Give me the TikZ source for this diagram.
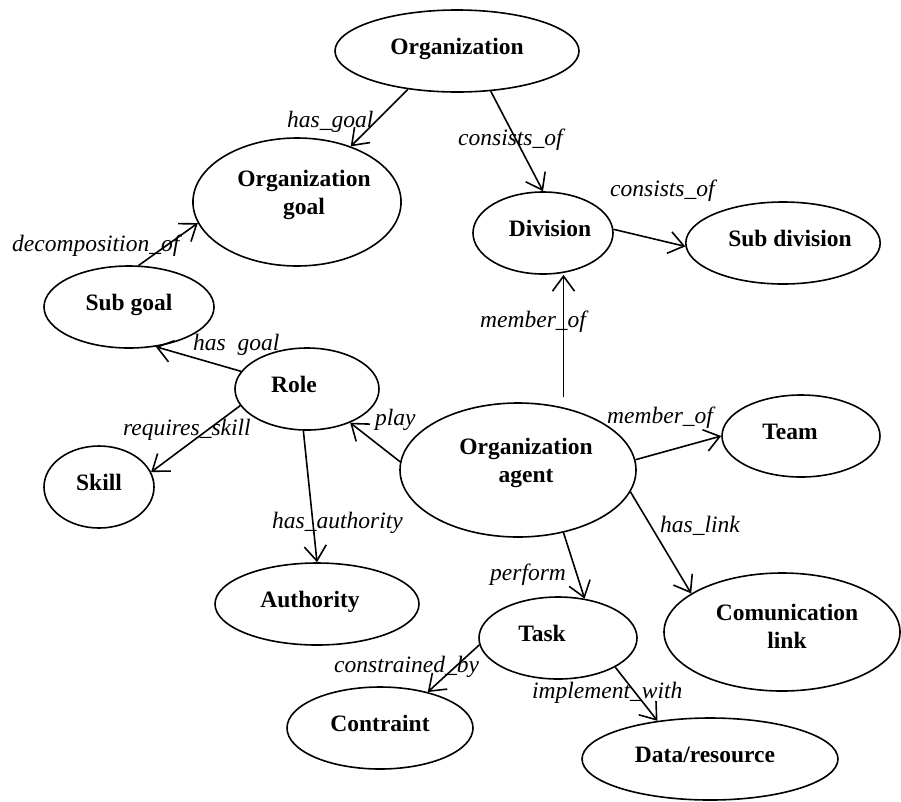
\documentclass[tikz,border=0pt]{standalone}
\usepackage{fontspec}
\setmainfont{Liberation Serif}
\usetikzlibrary{shapes.geometric,arrows.meta}

\newcommand{\two}[2]{\begin{tabular}{@{}c@{}}#1\\#2\end{tabular}}

\tikzset{
  ent/.style={ellipse, draw, line width=1.6pt, inner sep=0pt,
    font=\bfseries\fontsize{23.5}{28}\selectfont,
    text height=18pt, text depth=11pt},
  ent2/.style={ent, text height=27pt, text depth=29pt},
  rel/.style={line width=1.6pt, -{Straight Barb[length=15pt,width=22pt]}},
  lab/.style={inner sep=0pt, anchor=base west,
    font=\itshape\fontsize{23.5}{28}\selectfont}
}

\begin{document}
\begin{tikzpicture}[x=1pt,y=-1pt]
\useasboundingbox (0,0) rectangle (901,801);

% entities
\node[ent, minimum width=244pt, minimum height=82pt] (org) at (457,51) {Organization};
\node[ent2, minimum width=208pt, minimum height=128pt] (orggoal) at (297,202) {\kern14pt\two{Organization}{goal}};
\node[ent, minimum width=140pt, minimum height=82pt] (division) at (543,233) {\kern14pt Division};
\node[ent, minimum width=194pt, minimum height=82pt] (subdiv) at (783,243) {\kern14pt Sub division};
\node[ent, minimum width=170pt, minimum height=82pt] (subgoal) at (129,307) {Sub goal};
\node[ent, minimum width=144pt, minimum height=82pt] (role) at (307,389) {Role\kern26pt};
\node[ent2, minimum width=236pt, minimum height=134pt] (agent) at (518,470) {\kern16pt\two{Organization}{agent}};
\node[ent, minimum width=158pt, minimum height=82pt] (team) at (801,436) {Team\kern22pt};
\node[ent, minimum width=110pt, minimum height=82pt] (skill) at (99,487) {Skill};
\node[ent, minimum width=204pt, minimum height=82pt] (authority) at (317,604) {Authority\kern14pt};
\node[ent, minimum width=158pt, minimum height=82pt] (task) at (558,638) {Task\kern32pt};
\node[ent2, minimum width=236pt, minimum height=118pt, text height=31pt, text depth=25pt] (comlink) at (782,632) {\kern10pt\two{Comunication}{link}};
\node[ent, minimum width=186pt, minimum height=82pt] (contraint) at (380,728) {Contraint};
\node[ent, minimum width=256pt, minimum height=82pt] (datares) at (710,759) {Data/resource\kern10pt};

% relations
\draw[rel] (org.-142.6) -- (orggoal.46);
\draw[rel] (org.-50) -- (division.90);
\draw[rel] (division.3) -- (subdiv.-178);
\draw[rel] (subgoal.77.6) -- (orggoal.-168);
\draw[rel] (role.165.8) -- (subgoal.-56);
\draw[rel] (role.-166) -- (skill.16);
\draw[rel] (role.-95.6) -- (authority.90);
\draw[rel] (agent.176.6) -- (role.-38.8);
\draw[rel, shorten <=10pt] (agent.54) -- (agent.54 |- division.south);
\draw[rel] (agent.5) -- (team.180);
\draw[rel] (agent.-11) -- (comlink.157);
\draw[rel] (agent.-54) -- (task.56.3);
\draw[rel] (task.-175) -- (contraint.37.2);
\draw[rel] (task.-27) -- (datares.144.8);

% relation names
\node[lab] (l1) at (287,127) {has\_goal};
\node[lab] (l2) at (458,145) {consists\_of};
\node[lab] (l3) at (610,196) {consists\_of};
\node[lab] (l4) at (12,251) {decomposition\_of};
\node[lab] (l5) at (193,350) {has\enspace goal};
\node[lab] (l6) at (480,327) {member\_of};
\node[lab] (l7) at (123,435) {requires\_skill};
\node[lab] (l8) at (375,425) {play};
\node[lab] (l9) at (272,528) {has\_authority};
\node[lab] (l10) at (607,423) {member\_of};
\node[lab] (l11) at (660,532) {has\_link};
\node[lab] (l12) at (490,580) {perform};
\node[lab] (l13) at (334,672) {constrained\_by};
\node[lab] (l14) at (532,698) {implement\_with};
\end{tikzpicture}
\end{document}
